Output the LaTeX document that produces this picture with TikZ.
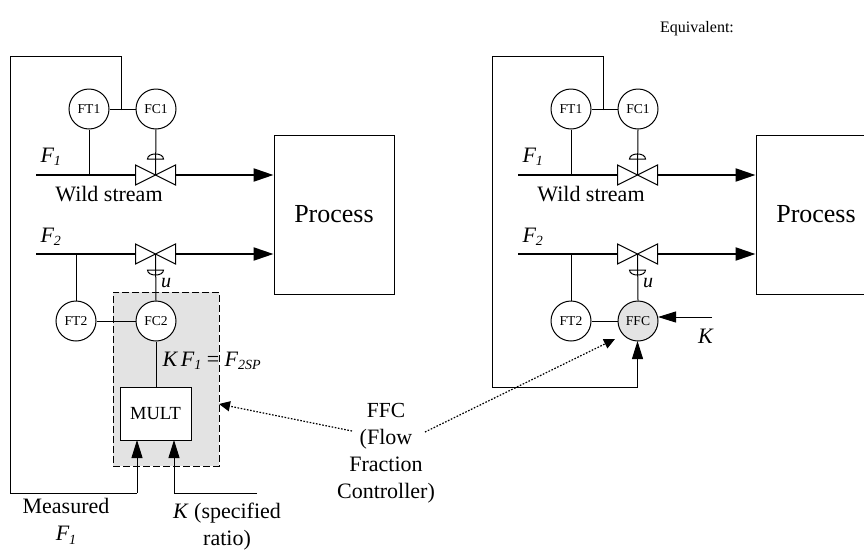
\documentclass[tikz,border=0pt]{standalone}
\usepackage{fontspec}
\setmainfont{Liberation Serif}
\usetikzlibrary{arrows.meta,positioning}
\definecolor{ffcGray}{RGB}{227,227,227}
\newcommand{\subit}[1]{\raisebox{-3.5pt}{\fontsize{14}{14}\selectfont #1}}
\newcommand{\fsize}[1]{\fontsize{#1}{27}\selectfont}

\begin{document}
\begin{tikzpicture}[
  x=1pt, y=-1pt, line width=1pt,
  inst/.style={draw, circle, fill=white, minimum size=40pt, inner sep=0pt, font=\fsize{13.6}},
  procbox/.style={draw, minimum width=120pt, minimum height=159pt, inner sep=0pt, font=\fsize{26}},
  valve/.style={minimum width=40pt, minimum height=20pt, inner sep=0pt, outer sep=0pt},
  txt/.style={inner sep=0pt, font=\fsize{22}, align=center},
  stream/.style={line width=2.2pt},
  arrs/.style={-{Triangle[length=20pt,width=13pt]}, line width=2.2pt},
  arr/.style={-{Triangle[length=18pt,width=11pt]}},
  dotarr/.style={-{Triangle[length=11pt,width=10pt]}, line width=1.2pt, dash pattern=on 1.6pt off 1.6pt}
]
  \path[use as bounding box, clip] (0,0) rectangle (864,552);

  % dashed box goes under everything else
  \node[draw, dash pattern=on 7pt off 3pt, fill=ffcGray, minimum width=106pt, minimum height=174pt,
    inner sep=0pt] (multbox) at (166,379) {};

  % part that both drawings share
  \foreach \s/\dx in {a/0,b/482} {
    \node[inst] (ft1\s) at (89+\dx,109) {FT1};
    \node[inst] (fc1\s) at (156+\dx,109) {FC1};
    \node[procbox] (proc\s) at (334+\dx,214.5) {Process};
    \node[valve] (v1\s) at (155.5+\dx,175) {};
    \node[valve] (v2\s) at (155.5+\dx,254) {};
    \coordinate (in1\s) at (36+\dx,175);
    \coordinate (in2\s) at (36+\dx,254);
    \coordinate (tap\s) at (121+\dx,110);
    \coordinate (topr\s) at (121+\dx,56);
    \coordinate (topl\s) at (10+\dx,56);
    \draw[stream] (in1\s) -- (v1\s.west);
    \draw[stream] (in2\s) -- (v2\s.west);
    \draw[arrs] (v1\s.east) -- (proc\s.west |- v1\s);
    \draw[arrs] (v2\s.east) -- (proc\s.west |- v2\s);
    \draw (v1\s.north west) -- (v1\s.south east) -- (v1\s.north east) -- (v1\s.south west) -- cycle;
    \draw (v2\s.north west) -- (v2\s.south east) -- (v2\s.north east) -- (v2\s.south west) -- cycle;
    \draw (ft1\s) -- (fc1\s);
    \draw (ft1\s.south) -- (ft1\s.south |- v1\s);
    \draw (fc1\s.south) -- (v1\s.center);
    \draw[shift={(v1\s.center)}] (-8,-16) .. controls (-8,-22.7) and (8,-22.7) .. (8,-16) -- cycle;
    \draw[shift={(v2\s.center)}] (-8,16) .. controls (-8,22.7) and (8,22.7) .. (8,16) -- cycle;
    \node[txt, anchor=west] (f1\s) at (40+\dx,157) {\textit{F\subit{1}}};
    \node[txt, anchor=west] (f2\s) at (40+\dx,237) {\textit{F\subit{2}}};
    \node[txt] (wild\s) at (109+\dx,194) {Wild stream};
    \node[txt] (u\s) at (166+\dx,283) {\fsize{20}\textit{u}};
  }

  % left drawing
  \node[inst] (ft2a) at (76,321) {FT2};
  \node[inst] (fc2a) at (156,321) {FC2};
  \node[draw, fill=white, minimum width=71pt, minimum height=53pt, inner sep=0pt,
    font=\fsize{18.5}] (mult) at (155.5,413.5) {MULT};
  \coordinate (in1m) at (137,440);
  \coordinate (in2m) at (174,440);
  \coordinate (botl) at (10,493);
  \coordinate (botm) at (137,493);
  \coordinate (botk) at (174,493);
  \coordinate (endk) at (257,493);
  \draw (ft2a.north) -- (ft2a.north |- v2a);
  \draw (fc2a.north) -- (v2a.center);
  \draw (ft2a) -- (fc2a);
  \draw (fc2a.south) -- (mult.north -| fc2a);
  \draw (tapa) -- (topra) -- (topla) -- (botl) -- (botm);
  \draw[arr] (botm) -- (in1m);
  \draw[arr] (endk) -- (botk) -- (in2m);

  \node[txt, anchor=west] (ratio) at (162,361) {\textit{K\,F\subit{1}} = \textit{F\subit{2SP}}};
  \node[txt] (meas) at (66,521.5) {Measured\\[0pt]\textit{F\subit{1}}};
  \node[txt] (spec) at (227,526.5) {\textit{K} (specified\\ratio)};

  % right drawing
  \node[inst] (ft2b) at (571,321) {FT2};
  \node[inst, fill=ffcGray] (ffcb) at (638,321) {FFC};
  \coordinate (kin) at (712,317);
  \coordinate (kout) at (658,317);
  \coordinate (botlb) at (492,387);
  \coordinate (botrb) at (637.5,387);
  \coordinate (inffc) at (637.5,341);
  \draw (ft2b.north) -- (ft2b.north |- v2b);
  \draw (ffcb.north) -- (v2b.center);
  \draw (ft2b) -- (ffcb);
  \draw[arr] (kin) -- (kout);
  \draw[arr] (tapb) -- (toprb) -- (toplb) -- (botlb) -- (botrb) -- (inffc);
  \node[txt] (kval) at (706,336) {\textit{K}};

  % labels and dotted pointers
  \node[txt] (equiv) at (697,29) {\fsize{16}Equivalent:};
  \node[txt] (ffclabel) at (386,453) {\fsize{21.5}FFC\\(Flow\\Fraction\\Controller)};
  \coordinate (dotl) at (352,431);
  \coordinate (dotr) at (425,432);
  \coordinate (tipl) at (219,404);
  \coordinate (tipr) at (615,339);
  \draw[dotarr] (dotl) -- (tipl);
  \draw[dotarr] (dotr) -- (tipr);
\end{tikzpicture}
\end{document}
